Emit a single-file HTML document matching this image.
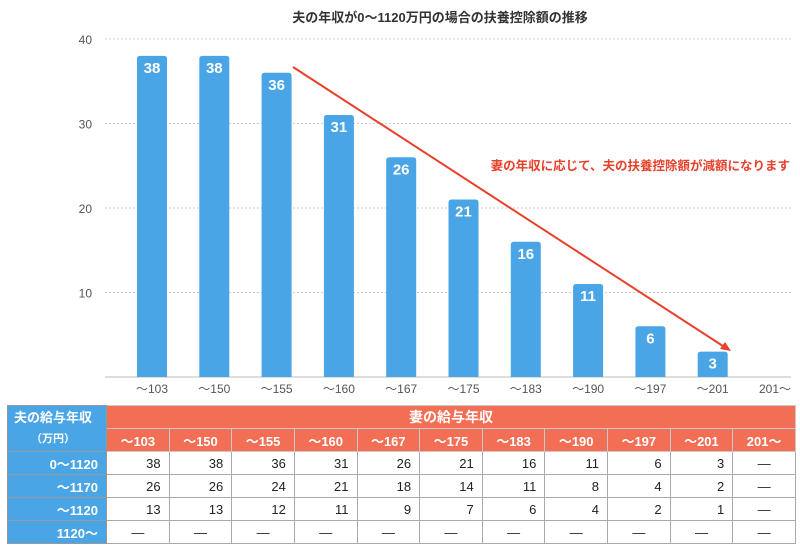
<!DOCTYPE html>
<html><head><meta charset="utf-8"><style>
body{margin:0;background:#fff;font-family:"Liberation Sans","Noto Sans CJK JP",sans-serif;}
#wrap{position:relative;width:800px;height:554px;overflow:hidden}
table{position:absolute;left:7px;top:405px;border-collapse:collapse;table-layout:fixed;width:789px}
td{border:1px solid #aaa;height:23px;padding:0;font-size:13px;color:#222;text-align:right;padding-right:8px;box-sizing:border-box}
td.h{background:#f26f55;color:#fff;text-align:center;font-weight:bold;padding:0;border-color:#c9c9c9}
td.l{background:#4aa5e6;color:#fff;font-weight:bold;text-align:right;border-color:#999}
td.d{text-align:center;padding:0}
</style></head><body><div id="wrap">
<svg id="chart" width="800" height="400" style="position:absolute;left:0;top:0"></svg>
<table>
<colgroup><col style="width:99px"></colgroup>
<tr><td class="l" rowspan="2" style="text-align:center;line-height:20px;font-size:13px">夫の給与年収<br><span style="font-size:11px">（万円）</span></td><td class="h" colspan="11" style="font-size:14px">妻の給与年収</td></tr>
<tr id="hrow"></tr>
</table>
<script>
const categories=["〜103","〜150","〜155","〜160","〜167","〜175","〜183","〜190","〜197","〜201","201〜"];
const values=[38,38,36,31,26,21,16,11,6,3,null];
const yTicks=[10,20,30,40];
const rowLabels=["0〜1120","〜1170","〜1120","1120〜"];
const row1=[38,38,36,31,26,21,16,11,6,3,null];
const row2=[26,26,24,21,18,14,11,8,4,2,null];
const row3=[13,13,12,11,9,7,6,4,2,1,null];
const row4=[null,null,null,null,null,null,null,null,null,null,null];
const NS="http://www.w3.org/2000/svg";
const svg=document.getElementById('chart');
const x=i=>152+i*62.3;
const y=v=>377-v*8.45;
function mk(t,a,txt){const e=document.createElementNS(NS,t);for(const k in a)e.setAttribute(k,a[k]);if(txt!=null)e.textContent=txt;svg.appendChild(e);return e;}
let e=mk('text',{x:440,y:22,'text-anchor':'middle','font-size':13,'font-weight':'bold',fill:'#333'},'夫の年収が0〜1120万円の場合の扶養控除額の推移');


yTicks.forEach(t=>{
 let g=mk('line',{x1:105,x2:791,y1:y(t),y2:y(t),stroke:'#ccc','stroke-dasharray':'2,2'});
 
 
 let l=mk('text',{x:92,y:y(t)+5,'text-anchor':'end','font-size':12,fill:'#555'},t);
 
 
});
e=mk('line',{x1:105,x2:791,y1:377,y2:377,stroke:'#bbb'});


categories.forEach((c,i)=>{
 const v=values[i];
 if(v!=null){
  let b=mk('path',{d:`M${x(i)-15},377 V${y(v)+3} q0,-3 3,-3 h24 q3,0 3,3 V377 Z`,fill:'#4aa5e6'});
  
  
  let t=mk('text',{x:x(i),y:y(v)+17,'text-anchor':'middle','font-size':15,'font-weight':'bold',fill:'#fff'},v);
  
  
 }
 let l=mk('text',{x:x(i),y:393,'text-anchor':'middle','font-size':12,fill:'#555'},c);
 
 
});
e=mk('line',{x1:293,y1:67,x2:726,y2:348,stroke:'#e8402a','stroke-width':2});


e=mk('path',{d:'M731,351 L720,349 L725,342 Z',fill:'#e8402a'});


e=mk('text',{x:790,y:170,'text-anchor':'end','font-size':12.5,'font-weight':'bold',fill:'#e8402a'},'妻の年収に応じて、夫の扶養控除額が減額になります');


const hr=document.getElementById('hrow');
categories.forEach(c=>{const td=document.createElement('td');td.className='h';td.textContent=c;
 
 
 hr.appendChild(td);});
const tbl=document.querySelector('table');
[row1,row2,row3,row4].forEach((r,ri)=>{
 const tr=document.createElement('tr');
 const th=document.createElement('td');th.className='l';th.textContent=rowLabels[ri];
 
 
 tr.appendChild(th);
 r.forEach(v=>{const td=document.createElement('td');
  if(v==null){td.className='d';td.textContent='—';}else td.textContent=v;
  
  
  tr.appendChild(td);});
 tbl.appendChild(tr);
});
</script>
</div></body></html>
